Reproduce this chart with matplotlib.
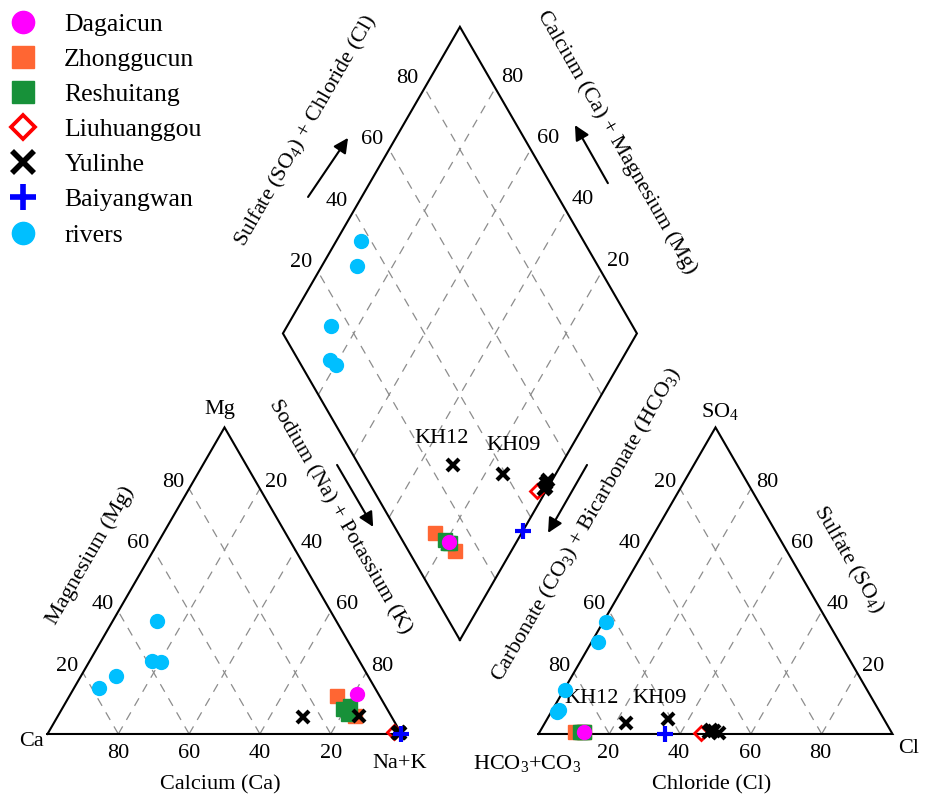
import matplotlib
matplotlib.use("Agg")
import matplotlib.pyplot as plt
from matplotlib.lines import Line2D
import numpy as np

plt.rcParams["font.family"] = "Liberation Serif"
plt.rcParams["mathtext.fontset"] = "custom"
plt.rcParams["mathtext.rm"] = "Liberation Serif"
plt.rcParams["mathtext.it"] = "Liberation Serif:italic"

# Cation percentages (Ca, Mg, Na+K) and anion percentages (HCO3+CO3, SO4, Cl)
dagaicun_cat = [(6.0, 13.0, 81.0)]
dagaicun_an = [(87.0, 0.5, 12.5)]

zhonggucun_cat = [(12.0, 12.5, 75.5), (10.0, 6.0, 84.0)]
zhonggucun_an = [(89.5, 0.5, 10.0), (87.0, 0.5, 12.5)]

reshuitang_cat = [(12.5, 8.0, 79.5), (10.0, 9.0, 81.0), (12.0, 6.5, 81.5)]
reshuitang_an = [(88.0, 0.5, 11.5), (87.5, 0.5, 12.0), (87.0, 0.5, 12.5)]

liuhuanggou_cat = [(2.0, 0.5, 97.5)]
liuhuanggou_an = [(54.0, 0.3, 45.7)]

yulinhe_ids = ["KH12", "KH09", "", "", "", ""]
yulinhe_cat = [(25.0, 5.5, 69.5), (9.0, 6.0, 85.0), (0.6, 0.3, 99.1),
               (0.8, 0.4, 98.8), (0.5, 0.6, 98.9), (0.4, 0.2, 99.4)]
yulinhe_an = [(73.5, 3.7, 22.8), (60.9, 4.8, 34.3), (51.5, 0.5, 48.0),
              (50.0, 1.0, 49.0), (49.0, 0.3, 50.7), (50.6, 1.2, 48.2)]

baiyangwan_cat = [(0.1, 0.0, 99.9)]
baiyangwan_an = [(64.4, 0.0, 35.6)]

rivers_cat = [(50.7, 37.0, 12.3), (58.7, 23.8, 17.5), (56.3, 23.5, 20.2),
              (71.1, 19.0, 9.9), (78.0, 15.0, 7.0)]
rivers_an = [(85.4, 14.2, 0.4), (91.1, 7.2, 1.7), (90.2, 7.8, 2.0),
             (68.2, 29.9, 1.9), (62.7, 36.6, 0.7)]

tick_values = [20, 40, 60, 80]

# layout of the three panels (unit = triangle side)
H = np.sqrt(3) / 2
AN_X0 = 1.387
DIA_X0, DIA_Y0 = 1.165, 0.2655


def cation_xy(rows):
    r = np.asarray(rows, float)
    r = r / r.sum(axis=1, keepdims=True)
    return r[:, 2] + r[:, 1] / 2, r[:, 1] * H


def anion_xy(rows):
    r = np.asarray(rows, float)
    r = r / r.sum(axis=1, keepdims=True)
    return AN_X0 + r[:, 2] + r[:, 1] / 2, r[:, 1] * H


def diamond_xy(cat, an):
    c = np.asarray(cat, float)
    a = np.asarray(an, float)
    cm = (c[:, 0] + c[:, 1]) / c.sum(axis=1)
    sc = (a[:, 1] + a[:, 2]) / a.sum(axis=1)
    return DIA_X0 + 0.5 * (sc - cm), DIA_Y0 + H * (cm + sc)


fig = plt.figure(figsize=(9.33, 8.01), dpi=100)
ax = fig.add_axes([0, 0, 1, 1])
ax.set_xlim(-0.1342, 2.5014)
ax.set_ylim(-0.1893, 2.0734)
ax.axis("off")

edge_kw = dict(color="black", lw=1.5, solid_joinstyle="miter", zorder=3)
grid_kw = dict(color="#8c8c8c", lw=0.9, linestyle=(0, (7, 6)), zorder=1)

# triangles
for x0 in (0.0, AN_X0):
    ax.plot([x0, x0 + 1, x0 + 0.5, x0], [0, 0, H, 0], **edge_kw)
    for t in np.array(tick_values) / 100:
        ax.plot([x0 + t, x0 + t + (1 - t) / 2], [0, (1 - t) * H], **grid_kw)
        ax.plot([x0 + 1 - t, x0 + (1 - t) / 2], [0, (1 - t) * H], **grid_kw)

# diamond
bx, by = DIA_X0, DIA_Y0
ax.plot([bx, bx - 0.5, bx, bx + 0.5, bx], [by, by + H, by + 2 * H, by + H, by],
        **edge_kw)
for t in np.array(tick_values) / 100:
    ax.plot([bx + 0.5 * t, bx + 0.5 * t - 0.5], [by + H * t, by + H * t + H], **grid_kw)
    ax.plot([bx - 0.5 * t, bx - 0.5 * t + 0.5], [by + H * t, by + H * t + H], **grid_kw)

fs = 16
# tick labels
for v in tick_values:
    t = v / 100
    # cation: Ca along base, Mg on left edge, Na+K on right edge
    ax.text(1 - t, -0.056, str(v), ha="center", va="center", fontsize=fs)
    ax.text(t / 2 - 0.045, t * H + 0.018, str(v), ha="center", va="center", fontsize=fs)
    ax.text(0.5 + t / 2 + 0.046, (1 - t) * H + 0.018, str(v), ha="center", va="center", fontsize=fs)
    # anion: Cl along base, HCO3+CO3 on left edge, SO4 on right edge
    ax.text(AN_X0 + t - 0.003, -0.056, str(v), ha="center", va="center", fontsize=fs)
    ax.text(AN_X0 + 0.5 - t / 2 - 0.042, (1 - t) * H + 0.018, str(v), ha="center", va="center", fontsize=fs)
    ax.text(AN_X0 + 1 - t / 2 + 0.046, t * H + 0.018, str(v), ha="center", va="center", fontsize=fs)
    # diamond upper edges
    ax.text(bx - 0.5 + t / 2 - 0.048, by + H + t * H + 0.027, str(v), ha="center", va="center", fontsize=fs)
    ax.text(bx + 0.5 - t / 2 + 0.048, by + H + t * H + 0.031, str(v), ha="center", va="center", fontsize=fs)

# corner labels
ax.text(-0.044, -0.020, "Ca", ha="center", va="center", fontsize=fs)
ax.text(0.487, 0.918, "Mg", ha="center", va="center", fontsize=fs)
ax.text(0.996, -0.082, "Na+K", ha="center", va="center", fontsize=fs)
ax.text(AN_X0 + 0.513, 0.910, r"SO$_\mathrm{4}$", ha="center", va="center", fontsize=fs)
ax.text(AN_X0 + 1.045, -0.040, "Cl", ha="center", va="center", fontsize=fs)
ax.text(AN_X0 - 0.033, -0.083, r"HCO$_\mathrm{3}$+CO$_\mathrm{3}$", ha="center", va="center", fontsize=fs)

# axis titles
title_kw = dict(ha="center", va="center", fontsize=fs, rotation_mode="anchor")
ax.text(0.487, -0.144, "Calcium (Ca)", **title_kw)
ax.text(AN_X0 + 0.490, -0.144, "Chloride (Cl)", **title_kw)
ax.text(0.122, 0.504, "Magnesium (Mg)", rotation=60, **title_kw)
ax.text(0.826, 0.614, "Sodium (Na) + Potassium (K)", rotation=-60, **title_kw)
ax.text(1.524, 0.590, r"Carbonate (CO$_\mathrm{3}$) + Bicarbonate (HCO$_\mathrm{3}$)",
        rotation=60, **title_kw)
ax.text(2.261, 0.492, r"Sulfate (SO$_\mathrm{4}$)", rotation=-60, **title_kw)
ax.text(0.730, 1.703, r"Sulfate (SO$_\mathrm{4}$) + Chloride (Cl)", rotation=60, **title_kw)
ax.text(1.609, 1.672, "Calcium (Ca) + Magnesium (Mg)", rotation=-60, **title_kw)

# direction arrows
arrow_kw = dict(arrowstyle="-|>", color="black", lw=1.5, mutation_scale=22,
                shrinkA=0, shrinkB=0)
for tail, head in [((0.818, 0.760), (0.920, 0.585)),
                   ((1.524, 0.760), (1.414, 0.568)),
                   ((0.736, 1.517), (0.849, 1.684)),
                   ((1.583, 1.556), (1.490, 1.720))]:
    ax.annotate("", xy=head, xytext=tail, arrowprops=arrow_kw)

groups = [
    ("Dagaicun", dagaicun_cat, dagaicun_an,
     dict(marker="o", color="#ff00ff", ms=10, mec="#ff00ff")),
    ("Zhonggucun", zhonggucun_cat, zhonggucun_an,
     dict(marker="s", color="#ff6633", ms=10, mec="#ff6633")),
    ("Reshuitang", reshuitang_cat, reshuitang_an,
     dict(marker="s", color="#179139", ms=10, mec="#179139")),
    ("Liuhuanggou", liuhuanggou_cat, liuhuanggou_an,
     dict(marker="D", color="none", ms=7, mec="#ff0000", mew=2)),
    ("Yulinhe", yulinhe_cat, yulinhe_an,
     dict(marker="x", color="black", ms=9, mec="black", mew=3)),
    ("Baiyangwan", baiyangwan_cat, baiyangwan_an,
     dict(marker="+", color="#0000ff", ms=11, mec="#0000ff", mew=3)),
    ("rivers", rivers_cat, rivers_an,
     dict(marker="o", color="#00bfff", ms=10, mec="#00bfff")),
]

zorders = {"rivers": 4, "Zhonggucun": 5, "Reshuitang": 6, "Dagaicun": 7,
           "Liuhuanggou": 8, "Yulinhe": 9, "Baiyangwan": 10}

handles = []
for name, cat, an, style in groups:
    style = dict(style)
    mfc = style.pop("color")
    for x, y in (cation_xy(cat), anion_xy(an), diamond_xy(cat, an)):
        ax.plot(x, y, ls="none", mfc=mfc, zorder=zorders[name], **style)
    big = dict(style)
    big["ms"] = style["ms"] * (1.6 if style["marker"] in "os" else 1.7)
    if "mew" in big:
        big["mew"] = style["mew"] * 1.35
    handles.append(Line2D([], [], ls="none", mfc=mfc, label=name, **big))

# sample ids for the two Yulinhe wells off the Na-Cl corner
dxk, dyk = diamond_xy(yulinhe_cat, yulinhe_an)
axk, ayk = anion_xy(yulinhe_an)
offsets = {"KH12": ((-8.4, 19.2), (-24.5, 17.3)), "KH09": ((7.9, 20.4), (-6.7, 15.1))}
for i, sid in enumerate(yulinhe_ids):
    if not sid:
        continue
    d_off, a_off = offsets[sid]
    ax.annotate(sid, (dxk[i], dyk[i]), xytext=d_off, textcoords="offset points",
                ha="center", va="center", fontsize=fs)
    ax.annotate(sid, (axk[i], ayk[i]), xytext=a_off, textcoords="offset points",
                ha="center", va="center", fontsize=fs)

fig.legend(handles=handles, loc="upper left", bbox_to_anchor=(0.0, 0.990),
           frameon=False, fontsize=18.5, borderpad=0.2, borderaxespad=0,
           handlelength=1.4, handletextpad=0.9, labelspacing=0.47, numpoints=1)

fig.savefig("out.png", dpi=100)
